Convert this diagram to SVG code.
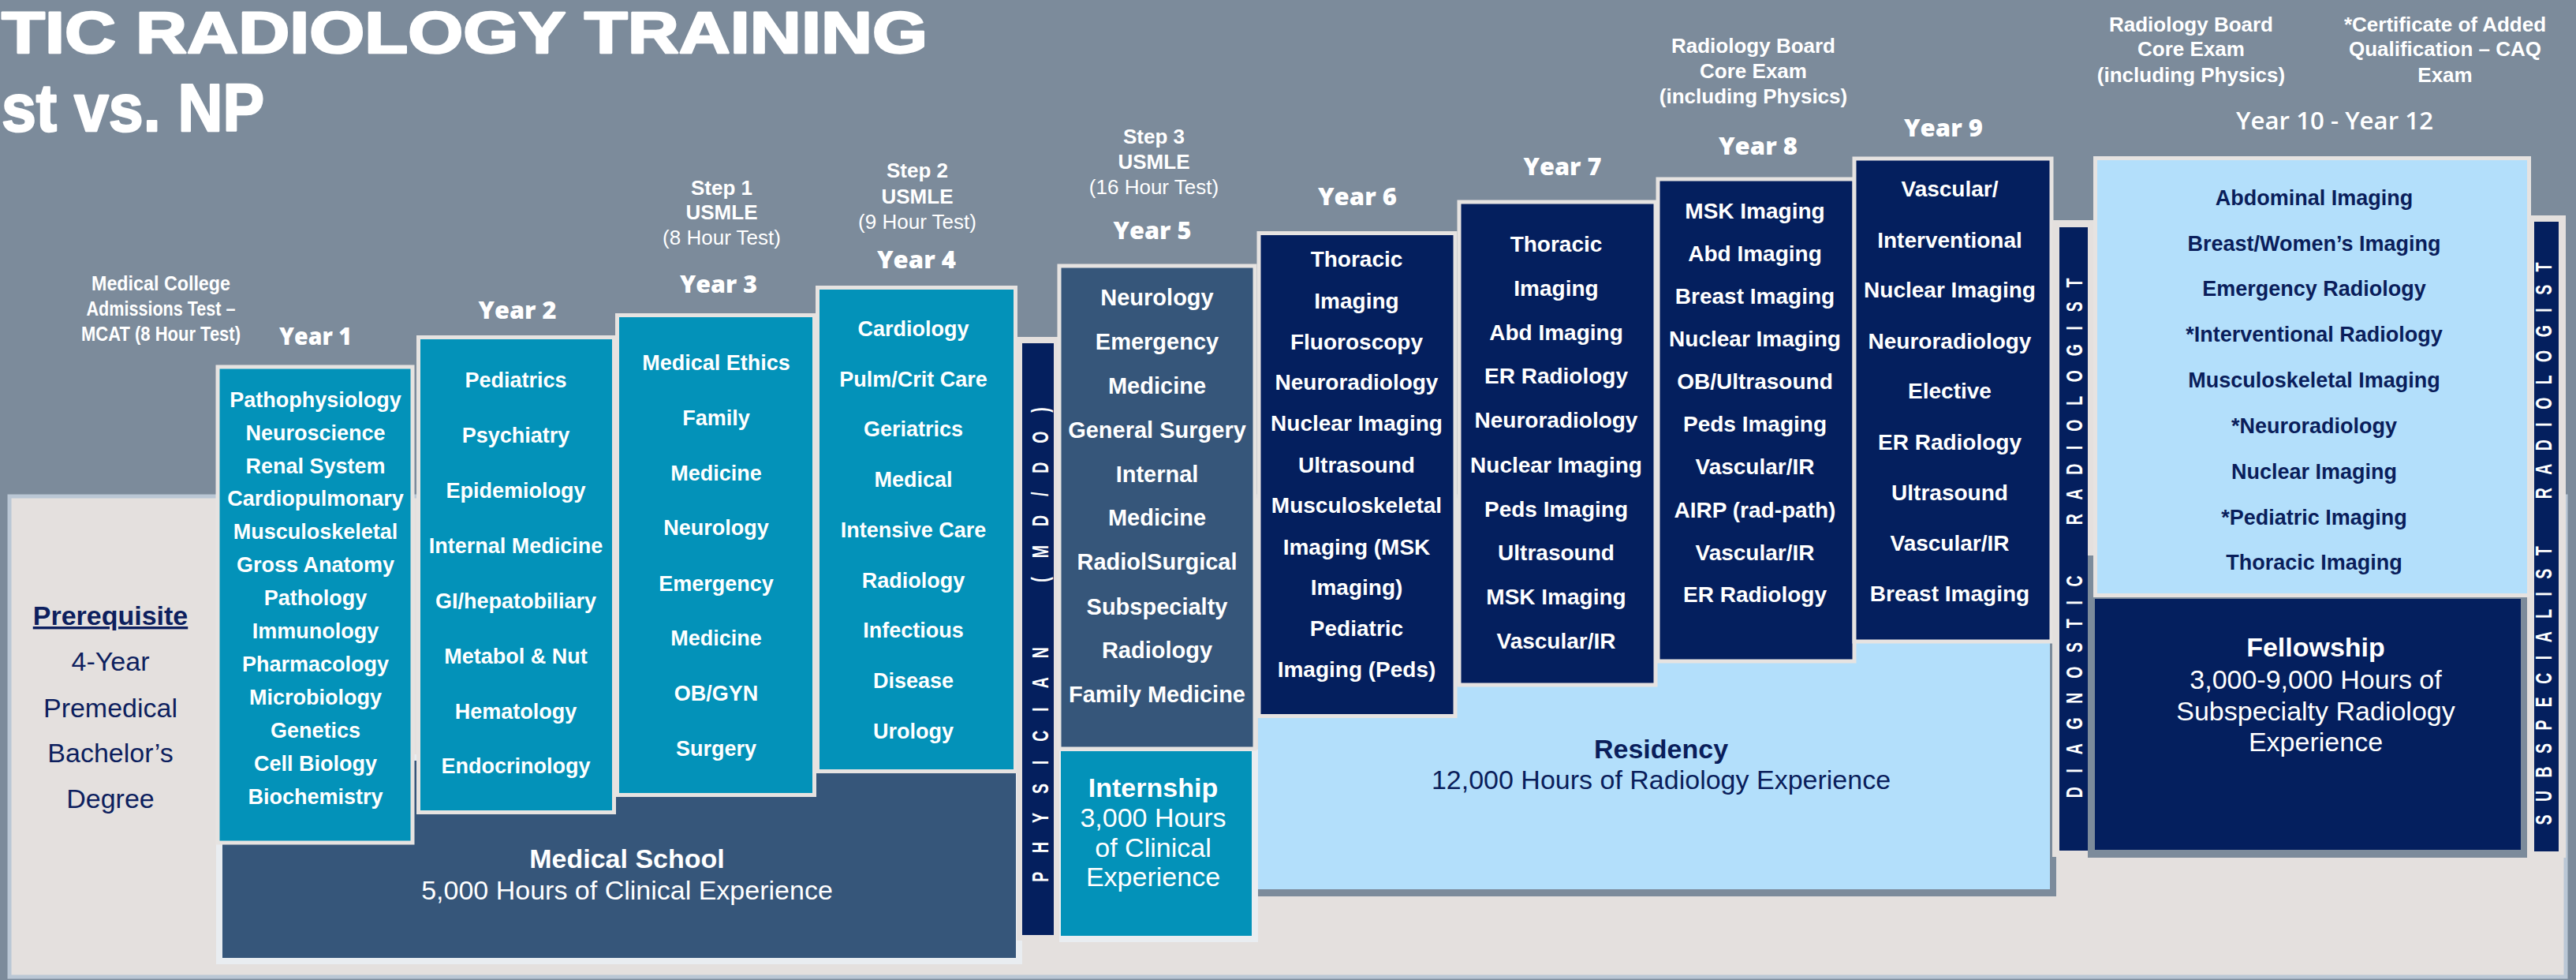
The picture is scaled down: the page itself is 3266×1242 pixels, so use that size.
<svg xmlns="http://www.w3.org/2000/svg" width="3266" height="1242" viewBox="0 0 3266 1242">
<style>
.yl{font-family:"Open Sans","Liberation Sans",sans-serif;font-weight:800;font-size:30px;fill:#fff;text-anchor:middle}
.it{font-family:"Liberation Sans",Arial,sans-serif;font-weight:bold;font-size:27px;fill:#fff;text-anchor:middle}
.it28{font-family:"Liberation Sans",Arial,sans-serif;font-weight:bold;font-size:28px;fill:#fff;text-anchor:middle}
.it29{font-family:"Liberation Sans",Arial,sans-serif;font-weight:bold;font-size:29px;fill:#fff;text-anchor:middle}
.itn{font-family:"Liberation Sans",Arial,sans-serif;font-weight:bold;font-size:27px;fill:#0A1E5B;text-anchor:middle}
.hd{font-family:"Liberation Sans",Arial,sans-serif;font-weight:bold;font-size:26px;fill:#fff;text-anchor:middle}
.hr{font-family:"Liberation Sans",Arial,sans-serif;font-size:26px;fill:#fff;text-anchor:middle}
.bigb{font-family:"Liberation Sans",Arial,sans-serif;font-weight:bold;font-size:34px;text-anchor:middle}
.bigr{font-family:"Liberation Sans",Arial,sans-serif;font-size:34px;text-anchor:middle}
.vt{font-family:"Liberation Sans",Arial,sans-serif;font-weight:bold;font-size:29px;fill:#fff;text-anchor:middle;white-space:pre}
.title{font-family:"Liberation Sans",Arial,sans-serif;font-weight:bold;fill:#fff;stroke:#fff;stroke-width:2.5;stroke-linejoin:round}
.frame{stroke:#E6E3E1;stroke-width:5}
.teal{fill:#0392B9}
.slate{fill:#36567A}
.navy{fill:#041F5E}
.lblue{fill:#B3DFFB}
.light{fill:#E4E0DE}
</style>
<rect x="0" y="0" width="3266" height="1242" fill="#7C8B9B"/>
<g id="title">
<text class="title" x="2" y="67" font-size="74" textLength="1174" lengthAdjust="spacingAndGlyphs">TIC RADIOLOGY TRAINING</text>
<text class="title" x="2" y="166" font-size="86" textLength="333" lengthAdjust="spacingAndGlyphs">st vs. NP</text>
</g>
<g id="panel">
<rect x="12" y="629" width="3241" height="609" fill="#E4E0DE" stroke="#BAC7D5" stroke-width="5"/>
</g>
<g id="prerequisite">
<text x="140" y="792" font-family="Liberation Sans, Arial, sans-serif" font-weight="bold" font-size="34" fill="#0D1F5E" text-anchor="middle" text-decoration="underline">Prerequisite</text>
<g font-family="Liberation Sans, Arial, sans-serif" font-size="34" fill="#0D1F5E" text-anchor="middle">
<text x="140" y="850">4-Year</text>
<text x="140" y="909">Premedical</text>
<text x="140" y="966">Bachelor’s</text>
<text x="140" y="1024">Degree</text>
</g>
</g>
<g id="mcat" font-family="Liberation Sans, Arial, sans-serif" font-weight="bold" font-size="26" fill="#fff" text-anchor="middle">
<text x="204" y="368" textLength="176" lengthAdjust="spacingAndGlyphs">Medical College</text>
<text x="204" y="400" textLength="189" lengthAdjust="spacingAndGlyphs">Admissions Test –</text>
<text x="204" y="432" textLength="202" lengthAdjust="spacingAndGlyphs">MCAT (8 Hour Test)</text>
</g>
<g id="medical-school">
<rect x="278" y="960" width="1014" height="258" class="slate" stroke="#E9EDF1" stroke-width="8"/>
<text class="bigb" x="795" y="1100" fill="#fff" font-size="33">Medical School</text>
<text class="bigr" x="795" y="1140" fill="#fff" font-size="32">5,000 Hours of Clinical Experience</text>
</g>
<g id="year1">
<text class="yl" x="400" y="437" textLength="92" lengthAdjust="spacingAndGlyphs">Year 1</text>
<rect x="276" y="465" width="247" height="603" class="teal frame"/>
<text class="it" x="400" y="516">Pathophysiology</text>
<text class="it" x="400" y="558">Neuroscience</text>
<text class="it" x="400" y="600">Renal System</text>
<text class="it" x="400" y="641">Cardiopulmonary</text>
<text class="it" x="400" y="683">Musculoskeletal</text>
<text class="it" x="400" y="725">Gross Anatomy</text>
<text class="it" x="400" y="767">Pathology</text>
<text class="it" x="400" y="809">Immunology</text>
<text class="it" x="400" y="851">Pharmacology</text>
<text class="it" x="400" y="893">Microbiology</text>
<text class="it" x="400" y="935">Genetics</text>
<text class="it" x="400" y="977">Cell Biology</text>
<text class="it" x="400" y="1019">Biochemistry</text>
</g>
<g id="year2">
<text class="yl" x="656" y="404" textLength="99" lengthAdjust="spacingAndGlyphs">Year 2</text>
<rect x="530.5" y="427.5" width="248" height="602" class="teal frame"/>
<text class="it" x="654" y="491">Pediatrics</text>
<text class="it" x="654" y="561">Psychiatry</text>
<text class="it" x="654" y="631">Epidemiology</text>
<text class="it" x="654" y="701">Internal Medicine</text>
<text class="it" x="654" y="771">GI/hepatobiliary</text>
<text class="it" x="654" y="841">Metabol &amp; Nut</text>
<text class="it" x="654" y="911">Hematology</text>
<text class="it" x="654" y="980">Endocrinology</text>
</g>
<g id="year3">
<text class="hd" x="915" y="247">Step 1</text>
<text class="hd" x="915" y="278">USMLE</text>
<text class="hr" x="915" y="310">(8 Hour Test)</text>
<text class="yl" x="911" y="371" textLength="98" lengthAdjust="spacingAndGlyphs">Year 3</text>
<rect x="782.5" y="399.5" width="250" height="608" class="teal frame"/>
<text class="it" x="908" y="469">Medical Ethics</text>
<text class="it" x="908" y="539">Family</text>
<text class="it" x="908" y="609">Medicine</text>
<text class="it" x="908" y="678">Neurology</text>
<text class="it" x="908" y="749">Emergency</text>
<text class="it" x="908" y="818">Medicine</text>
<text class="it" x="908" y="888">OB/GYN</text>
<text class="it" x="908" y="958">Surgery</text>
</g>
<g id="year4">
<text class="hd" x="1163" y="225">Step 2</text>
<text class="hd" x="1163" y="258">USMLE</text>
<text class="hr" x="1163" y="290">(9 Hour Test)</text>
<text class="yl" x="1162" y="340" textLength="100" lengthAdjust="spacingAndGlyphs">Year 4</text>
<rect x="1036.5" y="364.5" width="251" height="613" class="teal frame"/>
<text class="it" x="1158" y="426">Cardiology</text>
<text class="it" x="1158" y="490">Pulm/Crit Care</text>
<text class="it" x="1158" y="553">Geriatrics</text>
<text class="it" x="1158" y="617">Medical</text>
<text class="it" x="1158" y="681">Intensive Care</text>
<text class="it" x="1158" y="745">Radiology</text>
<text class="it" x="1158" y="808">Infectious</text>
<text class="it" x="1158" y="872">Disease</text>
<text class="it" x="1158" y="936">Urology</text>
</g>
<g id="physician">
<rect x="1289" y="427" width="54" height="765" class="light"/>
<rect x="1296" y="435" width="40" height="750" class="navy"/>
<text class="vt" transform="translate(1329,817) rotate(-90) scale(0.67,1)" textLength="898" lengthAdjust="spacing">PHYSICIAN  (MD/DO)</text>
</g>
<g id="internship">
<rect x="1343" y="950" width="252" height="244" fill="#E9EDF1"/>
<rect x="1345" y="952" width="242" height="234" class="teal"/>
<text class="bigb" x="1462" y="1010" fill="#fff">Internship</text>
<text class="bigr" x="1462" y="1048" fill="#fff">3,000 Hours</text>
<text class="bigr" x="1462" y="1086" fill="#fff">of Clinical</text>
<text class="bigr" x="1462" y="1123" fill="#fff">Experience</text>
</g>
<g id="year5">
<text class="hd" x="1463" y="182">Step 3</text>
<text class="hd" x="1463" y="214">USMLE</text>
<text class="hr" x="1463" y="246">(16 Hour Test)</text>
<text class="yl" x="1461" y="303" textLength="99" lengthAdjust="spacingAndGlyphs">Year 5</text>
<rect x="1343" y="337" width="248" height="612" class="slate frame"/>
<text class="it29" x="1467" y="387">Neurology</text>
<text class="it29" x="1467" y="443">Emergency</text>
<text class="it29" x="1467" y="499">Medicine</text>
<text class="it29" x="1467" y="555">General Surgery</text>
<text class="it29" x="1467" y="611">Internal</text>
<text class="it29" x="1467" y="666">Medicine</text>
<text class="it29" x="1467" y="722">RadiolSurgical</text>
<text class="it29" x="1467" y="779">Subspecialty</text>
<text class="it29" x="1467" y="834">Radiology</text>
<text class="it29" x="1467" y="890">Family Medicine</text>
</g>
<g id="residency">
<rect x="1595" y="790" width="1012" height="346" fill="#7C8B9B"/>
<rect x="1595" y="790" width="1004" height="337" class="lblue"/>
<text class="bigb" x="2106" y="961" fill="#0A1E5B">Residency</text>
<text class="bigr" x="2106" y="1000" fill="#0A1E5B">12,000 Hours of Radiology Experience</text>
</g>
<g id="year6">
<text class="yl" x="1721" y="260" textLength="100" lengthAdjust="spacingAndGlyphs">Year 6</text>
<rect x="1596" y="295.5" width="249" height="612" class="navy frame"/>
<text class="it28" x="1720" y="338">Thoracic</text>
<text class="it28" x="1720" y="391">Imaging</text>
<text class="it28" x="1720" y="443">Fluoroscopy</text>
<text class="it28" x="1720" y="494">Neuroradiology</text>
<text class="it28" x="1720" y="546">Nuclear Imaging</text>
<text class="it28" x="1720" y="599">Ultrasound</text>
<text class="it28" x="1720" y="650">Musculoskeletal</text>
<text class="it28" x="1720" y="703">Imaging (MSK</text>
<text class="it28" x="1720" y="754">Imaging)</text>
<text class="it28" x="1720" y="806">Pediatric</text>
<text class="it28" x="1720" y="858">Imaging (Peds)</text>
</g>
<g id="year7">
<text class="yl" x="1981" y="222" textLength="99" lengthAdjust="spacingAndGlyphs">Year 7</text>
<rect x="1850" y="256" width="249" height="612" class="navy frame"/>
<text class="it28" x="1973" y="319">Thoracic</text>
<text class="it28" x="1973" y="375">Imaging</text>
<text class="it28" x="1973" y="431">Abd Imaging</text>
<text class="it28" x="1973" y="486">ER Radiology</text>
<text class="it28" x="1973" y="542">Neuroradiology</text>
<text class="it28" x="1973" y="599">Nuclear Imaging</text>
<text class="it28" x="1973" y="655">Peds Imaging</text>
<text class="it28" x="1973" y="710">Ultrasound</text>
<text class="it28" x="1973" y="766">MSK Imaging</text>
<text class="it28" x="1973" y="822">Vascular/IR</text>
</g>
<g id="year8">
<text class="hd" x="2223" y="67">Radiology Board</text>
<text class="hd" x="2223" y="99">Core Exam</text>
<text class="hd" x="2223" y="131">(including Physics)</text>
<text class="yl" x="2229" y="196" textLength="100" lengthAdjust="spacingAndGlyphs">Year 8</text>
<rect x="2102" y="227" width="249" height="611" class="navy frame"/>
<text class="it28" x="2225" y="277">MSK Imaging</text>
<text class="it28" x="2225" y="331">Abd Imaging</text>
<text class="it28" x="2225" y="385">Breast Imaging</text>
<text class="it28" x="2225" y="439">Nuclear Imaging</text>
<text class="it28" x="2225" y="493">OB/Ultrasound</text>
<text class="it28" x="2225" y="547">Peds Imaging</text>
<text class="it28" x="2225" y="601">Vascular/IR</text>
<text class="it28" x="2225" y="656">AIRP (rad-path)</text>
<text class="it28" x="2225" y="710">Vascular/IR</text>
<text class="it28" x="2225" y="763">ER Radiology</text>
</g>
<g id="year9">
<text class="yl" x="2464" y="173" textLength="100" lengthAdjust="spacingAndGlyphs">Year 9</text>
<rect x="2351" y="201" width="250" height="612" class="navy frame"/>
<text class="it28" x="2472" y="249">Vascular/</text>
<text class="it28" x="2472" y="314">Interventional</text>
<text class="it28" x="2472" y="377">Nuclear Imaging</text>
<text class="it28" x="2472" y="442">Neuroradiology</text>
<text class="it28" x="2472" y="505">Elective</text>
<text class="it28" x="2472" y="570">ER Radiology</text>
<text class="it28" x="2472" y="634">Ultrasound</text>
<text class="it28" x="2472" y="698">Vascular/IR</text>
<text class="it28" x="2472" y="762">Breast Imaging</text>
</g>
<g id="diagnostic-radiologist">
<rect x="2602" y="279" width="52" height="807" class="light"/>
<rect x="2611" y="288" width="36" height="790" class="navy"/>
<text class="vt" transform="translate(2640,682) rotate(-90) scale(0.67,1)" textLength="983" lengthAdjust="spacing">DIAGNOSTIC  RADIOLOGIST</text>
</g>
<g id="year10-12">
<text class="hd" x="2778" y="40">Radiology Board</text>
<text class="hd" x="2778" y="71">Core Exam</text>
<text class="hd" x="2778" y="104">(including Physics)</text>
<text class="hd" x="3100" y="40">*Certificate of Added</text>
<text class="hd" x="3100" y="71">Qualification – CAQ</text>
<text class="hd" x="3100" y="104">Exam</text>
<text x="2960" y="164" font-family="Open Sans, Liberation Sans, sans-serif" font-weight="600" font-size="30" fill="#fff" text-anchor="middle" textLength="250" lengthAdjust="spacingAndGlyphs">Year 10 - Year 12</text>
<rect x="2647" y="704" width="557" height="383" fill="#7C8B9B"/>
<rect x="2656.5" y="200.5" width="550" height="554" class="lblue frame"/>
<text class="itn" x="2934" y="260">Abdominal Imaging</text>
<text class="itn" x="2934" y="318">Breast/Women’s Imaging</text>
<text class="itn" x="2934" y="375">Emergency Radiology</text>
<text class="itn" x="2934" y="433">*Interventional Radiology</text>
<text class="itn" x="2934" y="491">Musculoskeletal Imaging</text>
<text class="itn" x="2934" y="549">*Neuroradiology</text>
<text class="itn" x="2934" y="607">Nuclear Imaging</text>
<text class="itn" x="2934" y="665">*Pediatric Imaging</text>
<text class="itn" x="2934" y="722">Thoracic Imaging</text>
</g>
<g id="fellowship">
<rect x="2656" y="759" width="540" height="318" class="navy"/>
<text class="bigb" x="2936" y="832" fill="#fff">Fellowship</text>
<text class="bigr" x="2936" y="873" fill="#fff">3,000-9,000 Hours of</text>
<text class="bigr" x="2936" y="913" fill="#fff">Subspecialty Radiology</text>
<text class="bigr" x="2936" y="952" fill="#fff">Experience</text>
</g>
<g id="subspecialist-radiologist">
<rect x="3207" y="273" width="46" height="814" class="light"/>
<rect x="3213" y="281" width="31" height="798" class="navy"/>
<text class="vt" transform="translate(3235,689) rotate(-90) scale(0.67,1)" textLength="1064" lengthAdjust="spacing">SUBSPECIALIST  RADIOLOGIST</text>
</g>
</svg>
